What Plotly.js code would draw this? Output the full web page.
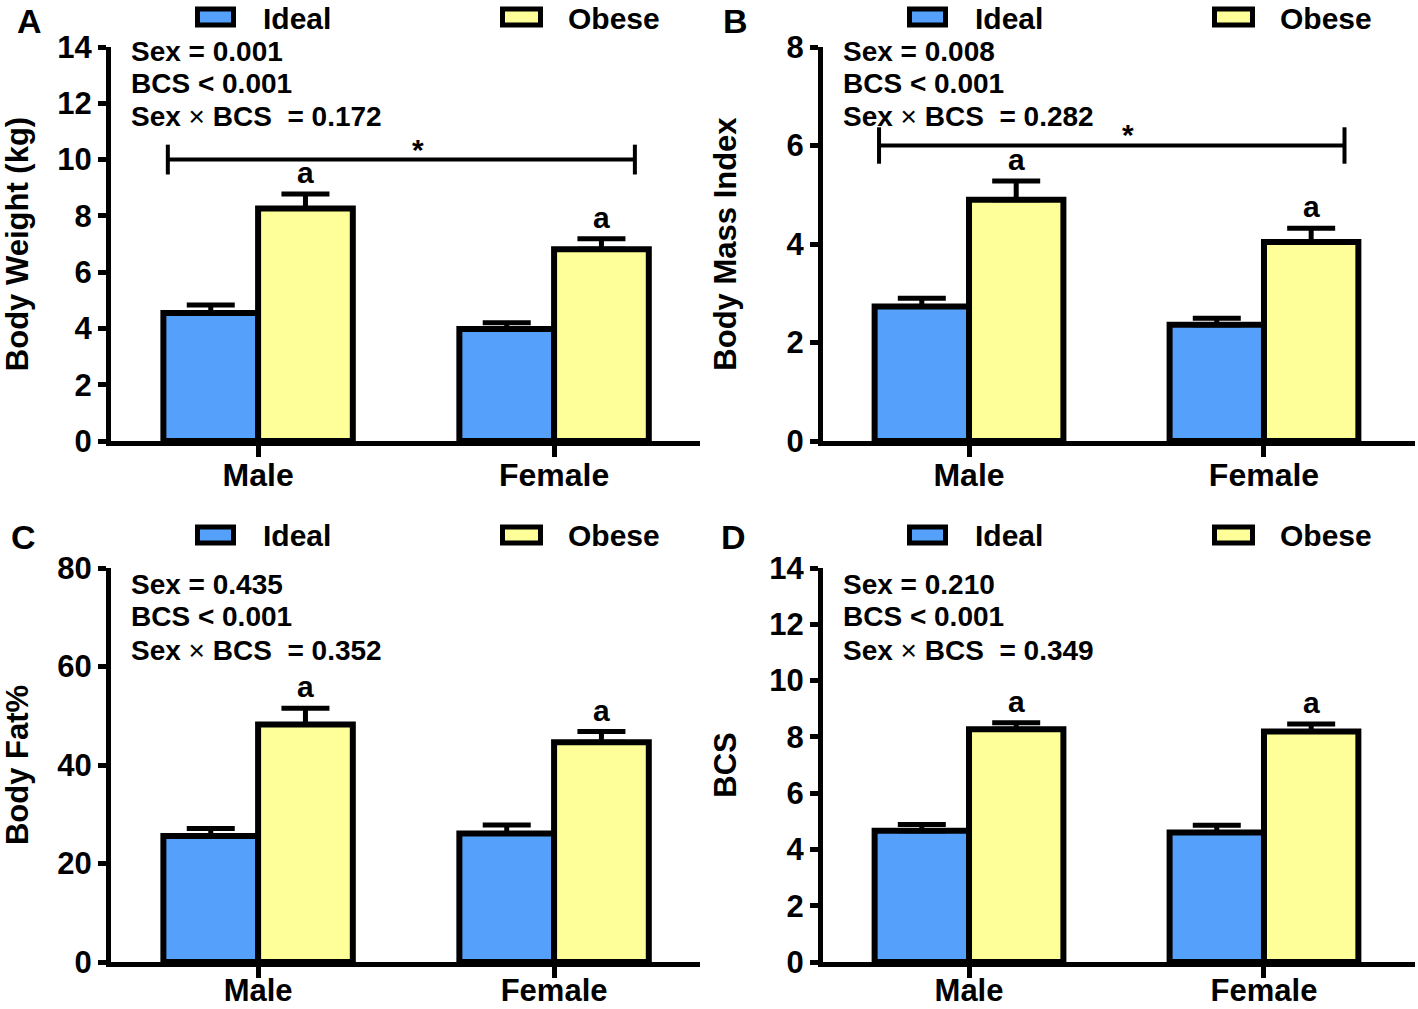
<!DOCTYPE html>
<html>
<head>
<meta charset="utf-8">
<script src="https://cdn.plot.ly/plotly-3.0.1.min.js"></script>
<style>html,body{margin:0;padding:0;background:#fff}</style>
</head>
<body>
<div id="chart" style="width:1418px;height:1009px"></div>
<script>
// ---- data ----
const categories = ['Male', 'Female'];
const groups = ['Ideal', 'Obese'];

const bodyWeightIdeal = [4.55, 3.98];
const bodyWeightIdealSE = [0.28, 0.22];
const bodyWeightObese = [8.26, 6.81];
const bodyWeightObeseSE = [0.52, 0.38];

const bmiIdeal = [2.73, 2.36];
const bmiIdealSE = [0.17, 0.13];
const bmiObese = [4.90, 4.04];
const bmiObeseSE = [0.38, 0.28];

const bodyFatIdeal = [25.6, 26.1];
const bodyFatIdealSE = [1.5, 1.7];
const bodyFatObese = [48.2, 44.6];
const bodyFatObeseSE = [3.3, 2.2];

const bcsIdeal = [4.66, 4.60];
const bcsIdealSE = [0.23, 0.26];
const bcsObese = [8.27, 8.19];
const bcsObeseSE = [0.23, 0.27];

const panelLetters = ['A', 'B', 'C', 'D'];
const yTitles = ['Body Weight (kg)', 'Body Mass Index', 'Body Fat%', 'BCS'];
const yMax = [14, 8, 80, 14];
const yDtick = [2, 2, 20, 2];
const pSex = ['Sex = 0.001', 'Sex = 0.008', 'Sex = 0.435', 'Sex = 0.210'];
const pBCS = ['BCS < 0.001', 'BCS < 0.001', 'BCS < 0.001', 'BCS < 0.001'];
const pInter = ['0.172', '0.282', '0.352', '0.349'];
const sigLetter = 'a';
// significance bracket between sexes (panels A and B only): level, half tick length
const bracketLevel = [10.0, 6.0, null, null];
const bracketTick = [0.53, 0.37, null, null];

// ---- styling ----
const W = 1418, H = 1009;
const FONT = 'Liberation Sans, Arial, Helvetica, sans-serif';
const BLUE = '#55A0FB';
const YELLOW = '#FFFF99';
const px = v => v / W;
const py = v => 1 - v / H;

const panels = [
  {ideal: bodyWeightIdeal, idealSE: bodyWeightIdealSE, obese: bodyWeightObese, obeseSE: bodyWeightObeseSE},
  {ideal: bmiIdeal, idealSE: bmiIdealSE, obese: bmiObese, obeseSE: bmiObeseSE},
  {ideal: bodyFatIdeal, idealSE: bodyFatIdealSE, obese: bodyFatObese, obeseSE: bodyFatObeseSE},
  {ideal: bcsIdeal, idealSE: bcsIdealSE, obese: bcsObese, obeseSE: bcsObeseSE}
];

// pixel layout of each panel's plot area
const boxes = [
  {x0: 111, x1: 700, y0: 47, y1: 441},
  {x0: 823, x1: 1415, y0: 47, y1: 441},
  {x0: 111, x1: 700, y0: 568, y1: 962},
  {x0: 823, x1: 1415, y0: 568, y1: 962}
];
const xRanges = [[-0.497, 1.493], [-0.495, 1.512], [-0.497, 1.493], [-0.495, 1.512]];
const titleStandoff = [21, 42, 24, 25];
const xLabelSize = [32, 32, 31, 31];
const xLabelShift = [-9, -9, -14, -14];

const traces = [];
const layout = {
  width: W, height: H,
  margin: {l: 0, r: 0, t: 0, b: 0},
  paper_bgcolor: '#fff', plot_bgcolor: '#fff',
  barmode: 'group', bargap: 0.36, bargroupgap: 0,
  showlegend: false,
  font: {family: FONT, color: '#000', weight: 'bold'},
  shapes: [], annotations: []
};

panels.forEach((p, i) => {
  const s = i === 0 ? '' : String(i + 1);
  const xa = 'x' + s, ya = 'y' + s;
  const b = boxes[i];
  const top = i < 2;
  const mk = (name, y, se, color) => ({
    type: 'bar', name: name, x: categories, y: y, xaxis: xa, yaxis: ya,
    marker: {color: color, line: {color: '#000', width: 6}},
    error_y: {type: 'data', symmetric: false, array: se, arrayminus: se.map(() => 0),
              color: '#000', thickness: 5, width: 24},
    hoverinfo: 'x+y+name'
  });
  traces.push(mk(groups[0], p.ideal, p.idealSE, BLUE));
  traces.push(mk(groups[1], p.obese, p.obeseSE, YELLOW));

  layout['xaxis' + s] = {
    domain: [px(b.x0), px(b.x1)], anchor: ya, type: 'category',
    range: xRanges[i], showline: true, linewidth: 5, linecolor: '#000',
    ticks: 'outside', ticklen: 11, tickwidth: 5, tickcolor: '#000',
    ticklabelstandoff: xLabelShift[i],
    showgrid: false, zeroline: false,
    tickfont: {family: FONT, size: xLabelSize[i], weight: 'bold', color: '#000'}
  };
  layout['yaxis' + s] = {
    domain: [py(b.y1), py(b.y0)], anchor: xa,
    range: [0, yMax[i]], dtick: yDtick[i], tick0: 0,
    showline: true, linewidth: 5, linecolor: '#000',
    ticks: 'outside', ticklen: 8, tickwidth: 5, tickcolor: '#000',
    showgrid: false, zeroline: false,
    tickfont: {family: FONT, size: 31, weight: 'bold', color: '#000'},
    title: {text: yTitles[i], standoff: titleStandoff[i],
            font: {family: FONT, size: 31, weight: 'bold', color: '#000'}}
  };

  // panel letter (top row anchored to the page top so it is not clipped)
  const letterX = [29, 735, 23, 733][i];
  layout.annotations.push({
    xref: 'paper', yref: 'paper', x: px(letterX), y: top ? 1 : py(537),
    xanchor: 'center', yanchor: top ? 'top' : 'middle', showarrow: false, text: panelLetters[i],
    font: {family: FONT, size: 34, weight: 'bold', color: '#000'}
  });

  // legend (swatch + label) for this panel
  const lx = i % 2 === 0 ? 0 : 712;
  const ly = top ? 17 : 535;
  [[197.5, 233.5, 261, BLUE, groups[0]], [502.5, 540.5, 566, YELLOW, groups[1]]].forEach(l => {
    layout.shapes.push({type: 'rect', xref: 'paper', yref: 'paper',
      x0: px(l[0] + lx), x1: px(l[1] + lx), y0: py(ly - 8), y1: py(ly + 8),
      fillcolor: l[3], line: {color: '#000', width: 5}});
    layout.annotations.push({xref: 'paper', yref: 'paper', x: px(l[2] + lx),
      y: top ? 1 : py(ly), xanchor: 'left', yanchor: top ? 'top' : 'middle',
      showarrow: false, text: l[4],
      font: {family: FONT, size: 30, weight: 'bold', color: '#000'}});
  });

  // statistics text
  const tx = b.x0 + 18;
  const lines = [pSex[i], pBCS[i],
    'Sex <span style="font-weight:normal">\u00d7</span> BCS \u00a0= ' + pInter[i]];
  const lineY = top ? [52, 84, 117] : [584, 616, 650];
  lines.forEach((t, k) => {
    layout.annotations.push({xref: 'paper', yref: 'paper', x: px(tx), y: py(lineY[k]),
      xanchor: 'left', yanchor: 'middle', showarrow: false, text: t,
      font: {family: FONT, size: 28, weight: 'bold', color: '#000'}});
  });

  // "a" marks over obese bars
  const off = (1 - layout.bargap) / 4;
  categories.forEach((c, j) => {
    layout.annotations.push({xref: xa, yref: ya, x: j + off, y: p.obese[j] + p.obeseSE[j],
      xanchor: 'center', yanchor: 'bottom', yshift: 3, showarrow: false, text: sigLetter,
      font: {family: FONT, size: 30, weight: 'bold', color: '#000'}});
  });

  // significance bracket between sexes
  if (bracketLevel[i] !== null) {
    const lv = bracketLevel[i], tk = bracketTick[i];
    const bx0 = -0.305, bx1 = 1.273;
    const ln = {color: '#000', width: 4};
    layout.shapes.push({type: 'line', xref: xa, yref: ya, x0: bx0, x1: bx1, y0: lv, y1: lv, line: ln});
    layout.shapes.push({type: 'line', xref: xa, yref: ya, x0: bx0, x1: bx0, y0: lv - tk, y1: lv + tk, line: ln});
    layout.shapes.push({type: 'line', xref: xa, yref: ya, x0: bx1, x1: bx1, y0: lv - tk, y1: lv + tk, line: ln});
    layout.annotations.push({xref: xa, yref: ya, x: 0.54, y: lv, xanchor: 'center', yanchor: 'bottom',
      yshift: -8, showarrow: false, text: '*',
      font: {family: FONT, size: 30, weight: 'bold', color: '#000'}});
  }
});

Plotly.newPlot('chart', traces, layout, {staticPlot: true, displayModeBar: false});
</script>
</body>
</html>
